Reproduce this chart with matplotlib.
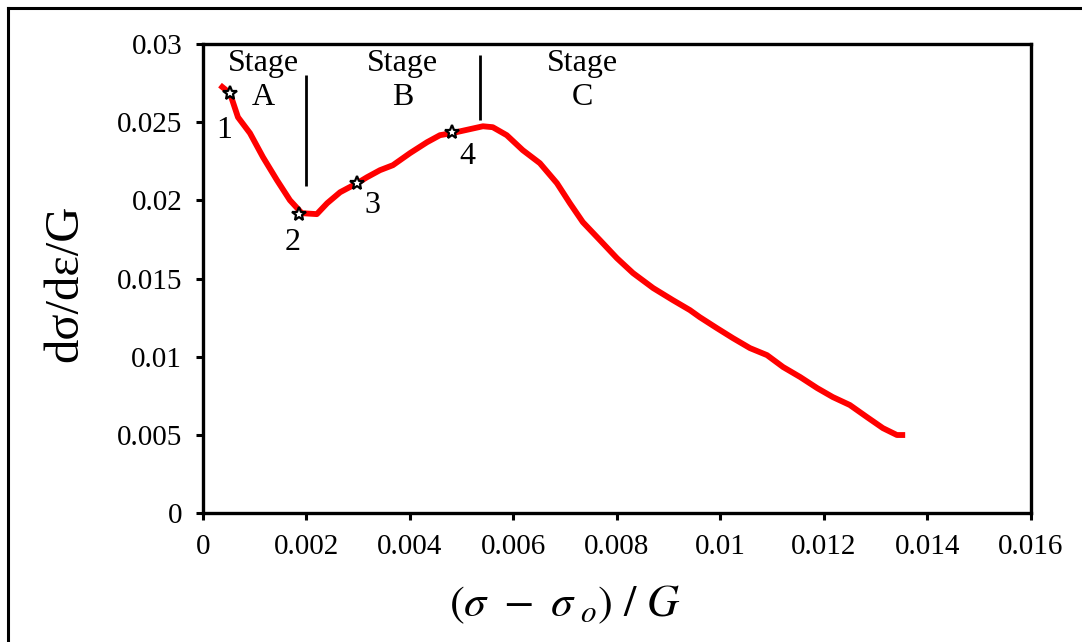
import matplotlib
matplotlib.use("Agg")
import matplotlib.pyplot as plt
from matplotlib.lines import Line2D

plt.rcParams['font.family'] = ['Liberation Serif', 'DejaVu Serif']
plt.rcParams['mathtext.fontset'] = 'stix'

# curve
stress = [0.000329, 0.000522, 0.000676, 0.000908, 0.00116, 0.00143, 0.00168, 0.00191,
          0.00220, 0.00240, 0.00265, 0.00298, 0.00317, 0.00342, 0.00367, 0.00400,
          0.00433, 0.00458, 0.00481, 0.00541, 0.00560, 0.00587, 0.00618, 0.00651,
          0.00684, 0.00709, 0.00734, 0.00767, 0.00800, 0.00831, 0.00870, 0.00908,
          0.00941, 0.00960, 0.00993, 0.01024, 0.01057, 0.01090, 0.01121, 0.01154,
          0.01187, 0.01217, 0.01250, 0.01283, 0.01314, 0.01341, 0.01357]
hardening = [0.02737, 0.02685, 0.02532, 0.02430, 0.02276, 0.02129, 0.02001, 0.01918,
             0.01912, 0.01982, 0.02052, 0.02110, 0.02148, 0.02193, 0.02225, 0.02302,
             0.02372, 0.02417, 0.02430, 0.02474, 0.02468, 0.02417, 0.02321, 0.02238,
             0.02110, 0.01982, 0.01861, 0.01746, 0.01630, 0.01535, 0.01439, 0.01362,
             0.01298, 0.01253, 0.01183, 0.01119, 0.01055, 0.01010, 0.00934, 0.00870,
             0.00799, 0.00742, 0.00691, 0.00614, 0.00543, 0.00499, 0.00499]

# marked points 1-4
mark_x = [0.00052, 0.00185, 0.00298, 0.00481]
mark_y = [0.02685, 0.01912, 0.02110, 0.02436]
mark_names = ['1', '2', '3', '4']
name_x = [0.00041, 0.00174, 0.00327, 0.00510]
name_y = [0.02449, 0.01733, 0.01969, 0.02283]

stage_names = ['Stage\nA', 'Stage\nB', 'Stage\nC']
stage_x = [0.00116, 0.00386, 0.00734]
bound_x = [0.00199, 0.00535]
bound_lo = [0.02091, 0.02513]
bound_hi = [0.02801, 0.02928]

fig = plt.figure(figsize=(10.82, 6.42), dpi=100)
ax = fig.add_axes([0.1876, 0.2009, 0.7652, 0.7305])

ax.plot(stress, hardening, color='red', lw=4.2, solid_capstyle='butt', zorder=2)
ax.plot(mark_x, mark_y, ls='none', marker='*', ms=10, mfc='white', mec='black',
        mew=1.6, zorder=3)

for n, x, y in zip(mark_names, name_x, name_y):
    ax.text(x, y, n, fontsize=23, ha='center', va='center')

for s, x in zip(stage_names, stage_x):
    ax.text(x, 0.02768, s, fontsize=23, ha='center', va='center', linespacing=1.25)

ax.vlines(bound_x, bound_lo, bound_hi, color='black', lw=2)

ax.set_xlim(0, 0.016)
ax.set_ylim(0, 0.03)
ax.set_xticks([0, 0.002, 0.004, 0.006, 0.008, 0.01, 0.012, 0.014, 0.016])
ax.set_xticklabels(['0', '0.002', '0.004', '0.006', '0.008', '0.01', '0.012', '0.014', '0.016'])
ax.set_yticks([0, 0.005, 0.01, 0.015, 0.02, 0.025, 0.03])
ax.set_yticklabels(['0', '0.005', '0.01', '0.015', '0.02', '0.025', '0.03'])
ax.tick_params(direction='out', length=5, width=2.2, labelsize=21, pad=10)

for side in ['left', 'right', 'top', 'bottom']:
    ax.spines[side].set_linewidth(2.4)

ax.set_ylabel('dσ/dε/G', fontsize=35)
ax.yaxis.set_label_coords(-0.140, 0.49)
ax.set_xlabel(r'$(\sigma\ -\ \sigma_{\ o})\ /\ G$', fontsize=32)
ax.xaxis.set_label_coords(0.437, -0.151)

# outer frame
fig.add_artist(Line2D([8 / 1082, 1], [1 - 8 / 642, 1 - 8 / 642], color='black', lw=2.2))
fig.add_artist(Line2D([8 / 1082, 8 / 1082], [0, 1 - 8 / 642], color='black', lw=2.2))

plt.savefig('out.png', dpi=100)
